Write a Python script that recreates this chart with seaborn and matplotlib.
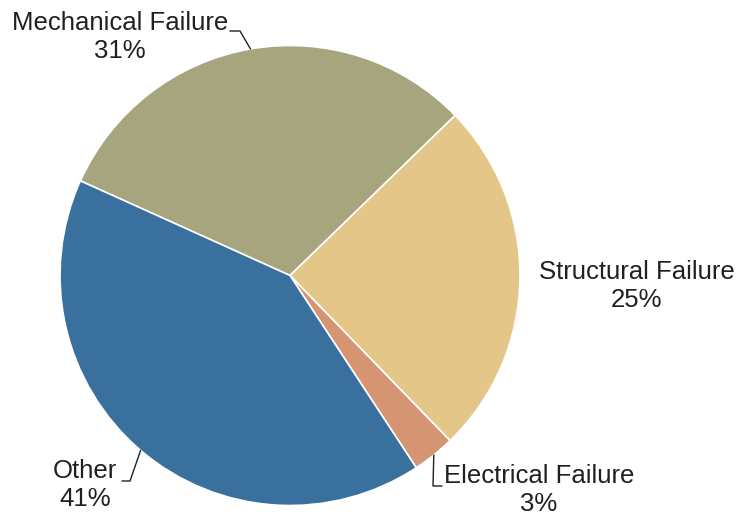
import numpy as np
import matplotlib
matplotlib.use('Agg')
import matplotlib.pyplot as plt
import seaborn as sns

# data
labels = ['Mechanical Failure', 'Structural Failure', 'Electrical Failure', 'Other']
shares = [31, 25, 3, 41]
colors = ['#A7A57E', '#E4C688', '#D59573', '#3A709D']

sns.set_style('white')
plt.rcParams['font.family'] = ['Liberation Sans', 'DejaVu Sans']

fig = plt.figure(figsize=(7.53, 5.18), dpi=100)
ax = fig.add_axes([0, 0, 1, 1])

cx, cy, r = 290, 518 - 275.5, 230
wedges, _ = ax.pie(shares, colors=colors, startangle=155.7, counterclock=False,
                   center=(cx, cy), radius=r, frame=True,
                   wedgeprops=dict(edgecolor='white', linewidth=1.2))
ax.set_xlim(0, 753)
ax.set_ylim(0, 518)
ax.axis('off')

# label positions (pixel coords, y from top) and leader elbow
label_pos = [(120, 37), (637, 286), (539, 490), (85, 485)]
elbows = [((240, 31), (230, 31)), None, ((433, 486), (442, 486)), ((130, 481), (122, 481))]

for w, lab, s, (lx, ly), elb in zip(wedges, labels, shares, label_pos, elbows):
    ang = np.deg2rad((w.theta1 + w.theta2) / 2)
    ax.text(lx, 518 - ly, f'{lab}\n{s}%', ha='center', va='center', fontsize=18.5,
            color='#231F20', linespacing=1.26)
    if elb is not None:
        ex, ey = cx + r * np.cos(ang), cy + r * np.sin(ang)
        (x1, y1), (x2, y2) = elb
        ax.plot([ex, x1, x2], [ey, 518 - y1, 518 - y2], color='#231F20', lw=1)

fig.savefig('out.png', dpi=100)
